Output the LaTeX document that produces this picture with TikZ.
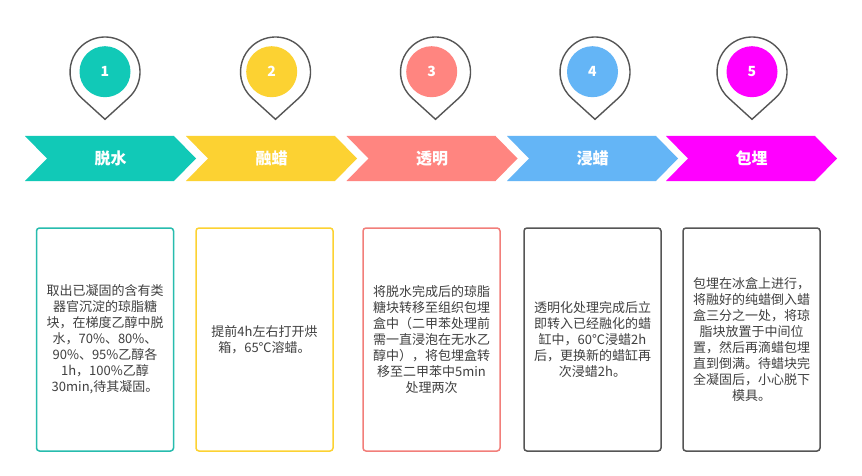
\documentclass[tikz,border=0pt]{standalone}
\usepackage{fontspec}
\setmainfont{Noto Sans CJK SC}
\newfontfamily\cjk{Noto Sans CJK SC}
\definecolor{cteal}{RGB}{17,201,183}
\definecolor{cyellow}{RGB}{252,210,50}
\definecolor{csalmon}{RGB}{255,133,128}
\definecolor{cblue}{RGB}{100,181,246}
\definecolor{cmag}{RGB}{255,0,255}
\definecolor{cgray}{RGB}{85,85,85}
\definecolor{ctext}{RGB}{64,64,64}
\tikzset{
  pinline/.style={draw=cgray, line width=1.4pt, line join=miter, fill=white},
  pindot/.style={circle, minimum size=51pt, inner sep=0pt, text=white, font=\cjk\bfseries\fontsize{14}{14}\selectfont},
  chevlabel/.style={text=white, font=\cjk\bfseries\fontsize{16}{16}\selectfont, inner sep=0pt},
  infobox/.style={draw, rounded corners=3pt, line width=1.5pt, minimum width=137pt, minimum height=223pt, text width=126pt, align=center, inner sep=0pt, text=ctext, font=\cjk\fontsize{13}{16}\selectfont}
}
\newcommand{\mypin}[4]{% outline x, circle x, colour, number
  \draw[pinline] (#1,119.3) -- ($(#1,72)+(48.1:35)$) arc[start angle=48.1, end angle=-228.1, radius=35] -- cycle;
  \node[pindot, fill=#3] (pin#4) at (#2,71.7) {#4};
}
\newcommand{\mychev}[4]{% left x, colour, label, name
  \fill[#2] (#1,136) -- ++(149,0) -- ++(22,22.5) -- ++(-22,22.5) -- ++(-149,0) -- ++(22,-22.5) -- cycle;
  \node[chevlabel] (#4) at ({#1+85.5},158.5) {#3};
}
\usetikzlibrary{calc}
\begin{document}
\begin{tikzpicture}[x=1pt,y=-1pt]
\useasboundingbox (0,0) rectangle (862,476);
\fill[white] (0,0) rectangle (862,476);

\mypin{105}{105}{cteal}{1}
\mypin{275.5}{271.7}{cyellow}{2}
\mypin{435.5}{431.7}{csalmon}{3}
\mypin{595}{592.5}{cblue}{4}
\mypin{752}{752}{cmag}{5}

\mychev{25}{cteal}{脱水}{c1}
\mychev{186}{cyellow}{融蜡}{c2}
\mychev{346.5}{csalmon}{透明}{c3}
\mychev{507}{cblue}{浸蜡}{c4}
\mychev{666}{cmag}{包埋}{c5}

\node[infobox, draw=cteal!90!black!90] (b1) at (105,339.5) {取出已凝固的含有类\\器官沉淀的琼脂糖\\块，在梯度乙醇中脱\\水，70\%、80\%、\\90\%、95\%乙醇各\\1h，100\%乙醇\\30min,待其凝固。};
\node[infobox, draw=cyellow] (b2) at (264.5,339.5) {提前4h左右打开烘\\箱，65℃溶蜡。};
\node[infobox, draw=csalmon!95!black] (b3) at (431.5,339.5) {将脱水完成后的琼脂\\糖块转移至组织包埋\\盒中（二甲苯处理前\\需一直浸泡在无水乙\\醇中），将包埋盒转\\移至二甲苯中5min\\处理两次};
\node[infobox, draw=cgray] (b4) at (592.5,339.5) {透明化处理完成后立\\即转入已经融化的蜡\\缸中，60℃浸蜡2h\\后，更换新的蜡缸再\\次浸蜡2h。};
\node[infobox, draw=cgray] (b5) at (751.5,339.5) {包埋在冰盒上进行，\\将融好的纯蜡倒入蜡\\盒三分之一处，将琼\\脂块放置于中间位\\置，然后再滴蜡包埋\\直到倒满。待蜡块完\\全凝固后，小心脱下\\模具。};
\end{tikzpicture}
\end{document}
